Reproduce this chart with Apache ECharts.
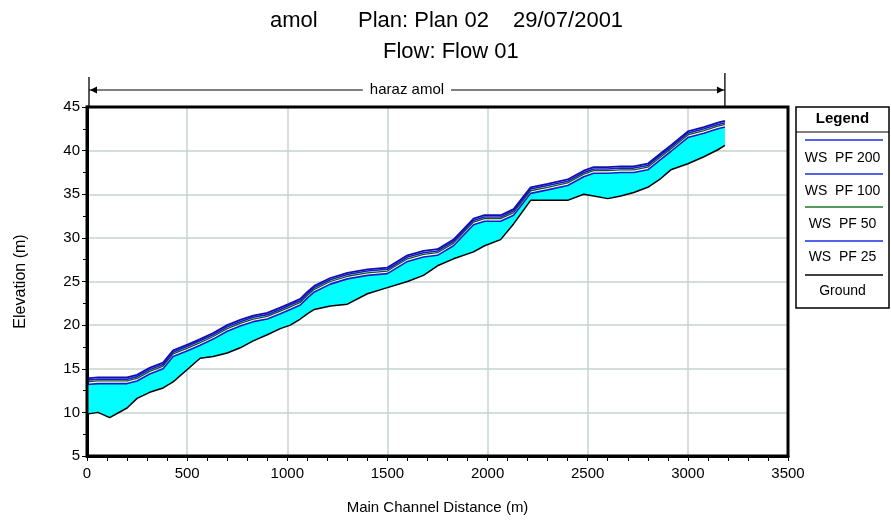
<!DOCTYPE html>
<html><head><meta charset="utf-8">
<script src="https://cdn.jsdelivr.net/npm/echarts@6/dist/echarts.min.js"></script>
<style>html,body{margin:0;padding:0;background:#fff}#c{width:891px;height:523px}</style>
</head><body><div id="c"></div>
<script>
// Main channel stations (m)
const stations = [0,55,113,200,250,313,380,430,505,565,630,700,765,830,900,965,1015,1065,1100,1135,1215,1300,1400,1500,1600,1680,1750,1830,1930,1985,2065,2130,2215,2300,2400,2480,2530,2600,2665,2730,2800,2865,2915,3000,3080,3150,3185];
// Ground (channel invert) elevation (m)
const ground = [9.8,10.0,9.4,10.5,11.6,12.3,12.8,13.5,15.0,16.2,16.4,16.8,17.4,18.2,18.9,19.6,20.0,20.7,21.3,21.8,22.2,22.4,23.6,24.3,25.0,25.7,26.8,27.6,28.4,29.1,29.8,31.6,34.3,34.3,34.3,35.0,34.8,34.5,34.8,35.2,35.8,36.8,37.8,38.5,39.3,40.1,40.6];
// Water surfaces (m)
const wsPF200 = [13.9,14.0,14.0,14.0,14.3,15.1,15.7,17.1,17.8,18.4,19.1,20.0,20.6,21.1,21.4,22.0,22.5,23.0,23.8,24.5,25.4,26.0,26.4,26.6,28.0,28.5,28.7,29.8,32.2,32.6,32.6,33.3,35.8,36.2,36.7,37.7,38.1,38.1,38.2,38.2,38.5,39.7,40.6,42.2,42.7,43.2,43.4];
const wsPF100 = [13.7,13.8,13.8,13.8,14.1,14.9,15.5,16.9,17.6,18.2,18.9,19.8,20.4,20.9,21.2,21.8,22.3,22.8,23.6,24.3,25.2,25.8,26.2,26.4,27.8,28.3,28.5,29.6,32.0,32.4,32.4,33.1,35.6,36.0,36.5,37.5,37.9,37.9,38.0,38.0,38.3,39.5,40.4,42.0,42.5,43.0,43.2];
const wsPF50  = [13.5,13.6,13.6,13.6,13.9,14.7,15.3,16.7,17.4,18.0,18.7,19.6,20.2,20.7,21.0,21.6,22.1,22.6,23.4,24.1,25.0,25.6,26.0,26.2,27.6,28.1,28.3,29.4,31.8,32.2,32.2,32.9,35.4,35.8,36.3,37.3,37.7,37.7,37.8,37.8,38.1,39.3,40.2,41.8,42.3,42.8,43.0];
const wsPF25  = [13.2,13.3,13.3,13.3,13.6,14.4,15.0,16.4,17.1,17.7,18.4,19.3,19.9,20.4,20.7,21.3,21.8,22.3,23.1,23.8,24.7,25.3,25.7,25.9,27.3,27.8,28.0,29.1,31.5,31.9,31.9,32.6,35.1,35.5,36.0,37.0,37.4,37.4,37.5,37.5,37.8,39.0,39.9,41.5,42.0,42.5,42.7];
const legendItems = ['WS  PF 200','WS  PF 100','WS  PF 50','WS  PF 25','Ground'];
const legendColors = ['#1a2ee0','#1a2ee0','#1a7a2a','#1a2ee0','#000000'];
const reachName = 'haraz amol';
const titleParts = ['amol','Plan: Plan 02','29/07/2001'];
const subTitle = 'Flow: Flow 01';

const F = '"Liberation Sans", Arial, sans-serif';
const chart = echarts.init(document.getElementById('c'), null, {renderer:'canvas'});
const pairs = ys => stations.map((x,i)=>[x, ys[i]]);

const axisCommon = {
  type:'value',
  axisLine:{show:true,lineStyle:{color:'#000',width:3}},
  axisTick:{show:true,length:5,lineStyle:{color:'#000',width:1}},
  axisLabel:{color:'#000',fontSize:15,fontFamily:F,formatter:v=>String(v)},
  splitLine:{show:true,showMinLine:false,showMaxLine:false,lineStyle:{color:'#c6d4d0',width:1.5}},
  nameTextStyle:{color:'#000',fontSize:15,fontFamily:F},
  nameLocation:'middle'
};
const tStyle = {fontFamily:F,fontSize:22,fontWeight:'normal',color:'#000'};
const option = {
  animation:false,
  backgroundColor:'#fff',
  title:[
    {text:titleParts[0], left:270, top:10, textStyle:tStyle, padding:0},
    {text:titleParts[1], left:358, top:10, textStyle:tStyle, padding:0},
    {text:titleParts[2], left:513, top:10, textStyle:tStyle, padding:0},
    {text:subTitle, left:383, top:41, textStyle:tStyle, padding:0}
  ],
  grid:{left:87,right:103,top:107,bottom:67,show:false},
  xAxis:Object.assign({}, axisCommon, {
    min:0,max:3500,interval:500,
    name:'Main Channel Distance (m)', nameGap:44,
    minorTick:{show:true,splitNumber:5,length:5,lineStyle:{color:'#000'}},
    axisLabel:Object.assign({}, axisCommon.axisLabel, {margin:10})
  }),
  yAxis:Object.assign({}, axisCommon, {
    min:5,max:45,interval:5,
    name:'Elevation (m)', nameGap:58,
    nameTextStyle:{color:'#000',fontSize:16,fontFamily:F},
    minorTick:{show:true,splitNumber:2,length:4,lineStyle:{color:'#000'}},
    axisLabel:Object.assign({}, axisCommon.axisLabel, {margin:7})
  }),
  series:[
    {name:'water',type:'custom',data:[[stations[0],ground[0]]],silent:true,z:1,
     renderItem:function(params, api){
       const pts=[];
       for(let i=0;i<stations.length;i++) pts.push(api.coord([stations[i], wsPF25[i]]));
       for(let i=stations.length-1;i>=0;i--) pts.push(api.coord([stations[i], ground[i]]));
       return {type:'polygon',shape:{points:pts},style:{fill:'#00ffff',stroke:null}};
     }},
    {name:'WS PF 25',type:'line',data:pairs(wsPF25),symbol:'none',lineStyle:{color:'#1a1ac8',width:1.6},z:3},
    {name:'WS PF 50',type:'line',data:pairs(wsPF50),symbol:'none',lineStyle:{color:'#0a5a20',width:1.3},z:3},
    {name:'WS PF 100',type:'line',data:pairs(wsPF100),symbol:'none',lineStyle:{color:'#1a1ac8',width:1.6},z:3},
    {name:'WS PF 200',type:'line',data:pairs(wsPF200),symbol:'none',lineStyle:{color:'#1010b0',width:1.8},z:3},
    {name:'Ground',type:'line',data:pairs(ground),symbol:'none',lineStyle:{color:'#000',width:1.5},z:4}
  ]
};
chart.setOption(option);

// Plot frame from the axis extents
const fx0 = chart.convertToPixel({xAxisIndex:0}, 0), fx1 = chart.convertToPixel({xAxisIndex:0}, 3500);
const fy0 = chart.convertToPixel({yAxisIndex:0}, 45), fy1 = chart.convertToPixel({yAxisIndex:0}, 5);
// Reach annotation above plot, placed through the x scale
const xa = chart.convertToPixel({xAxisIndex:0}, stations[0]) + 2;
const xb = chart.convertToPixel({xAxisIndex:0}, stations[stations.length-1]);
const yL = 90;
const g = [];
g.push({type:'rect',shape:{x:fx0,y:fy0,width:fx1-fx0,height:fy1-fy0},style:{fill:null,stroke:'#000',lineWidth:3},z:90});
g.push({type:'line',shape:{x1:xa,y1:77,x2:xa,y2:106},style:{stroke:'#000',lineWidth:1.3},z:100});
g.push({type:'line',shape:{x1:xb,y1:73,x2:xb,y2:106},style:{stroke:'#000',lineWidth:1.3},z:100});
g.push({type:'line',shape:{x1:xa,y1:yL,x2:xb,y2:yL},style:{stroke:'#000',lineWidth:1.2},z:100});
g.push({type:'polygon',shape:{points:[[xa+1,yL],[xa+8,yL-3.5],[xa+8,yL+3.5]]},style:{fill:'#000'},z:100});
g.push({type:'polygon',shape:{points:[[xb-1,yL],[xb-8,yL-3.5],[xb-8,yL+3.5]]},style:{fill:'#000'},z:100});
g.push({type:'text',x:(xa+xb)/2,y:yL,style:{text:reachName,font:'15px '+F,fill:'#000',align:'center',verticalAlign:'middle',backgroundColor:'#fff',padding:[0,7]},z:101});

// Legend box
const lx=796, ly=107, lw=93, lh=201;
g.push({type:'rect',shape:{x:lx,y:ly,width:lw,height:lh},style:{fill:'#fff',stroke:'#000',lineWidth:1.5},z:100});
g.push({type:'text',x:lx+lw/2,y:ly+12,style:{text:'Legend',font:'bold 15px '+F,fill:'#000',align:'center',verticalAlign:'middle'},z:101});
g.push({type:'line',shape:{x1:lx,y1:132,x2:lx+lw,y2:132},style:{stroke:'#000',lineWidth:1},z:101});
const lineYs=[140,174,207,241,275], textYs=[158,191,224,257,291];
legendItems.forEach((t,i)=>{
  g.push({type:'line',shape:{x1:lx+9,y1:lineYs[i],x2:lx+lw-6,y2:lineYs[i]},style:{stroke:legendColors[i],lineWidth:1.5},z:101});
  g.push({type:'text',x:lx+lw/2,y:textYs[i],style:{text:t,font:'14px '+F,fill:'#000',align:'center',verticalAlign:'middle'},z:101});
});
chart.setOption({graphic:g});
</script>
</body></html>
